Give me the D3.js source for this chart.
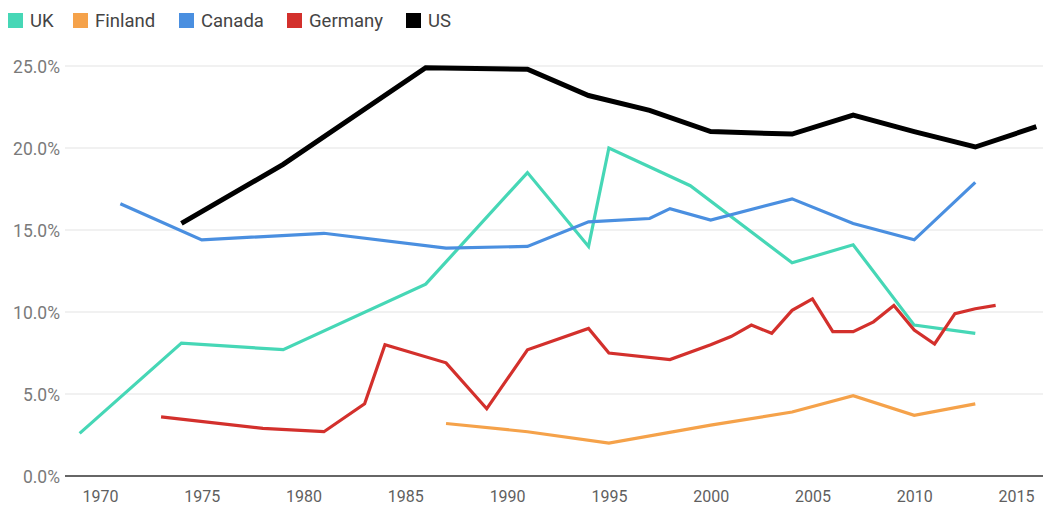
<!DOCTYPE html>
<html>
<head>
<meta charset="utf-8">
<script src="https://cdn.jsdelivr.net/npm/d3@7"></script>
<style>
  html, body { margin: 0; padding: 0; background: #fff; }
  svg { display: block; font-family: Roboto, "Noto Sans", sans-serif; }
</style>
</head>
<body>
<svg id="chart" width="1043" height="505"></svg>
<script>
// Share of population by country and year (percent)
const seriesNames = ["UK", "Finland", "Canada", "Germany", "US"];
const seriesColors = ["#46d7b6", "#f5a24a", "#4a8fe0", "#d3302c", "#000000"];

const ukYears = [1969, 1974, 1979, 1986, 1991, 1994, 1995, 1999, 2004, 2007, 2010, 2013];
const ukValues = [2.6, 8.1, 7.7, 11.7, 18.5, 14.0, 20.0, 17.7, 13.0, 14.1, 9.2, 8.7];

const finlandYears = [1987, 1991, 1995, 2000, 2004, 2007, 2010, 2013];
const finlandValues = [3.2, 2.7, 2.0, 3.1, 3.9, 4.9, 3.7, 4.4];

const canadaYears = [1971, 1975, 1981, 1987, 1991, 1994, 1997, 1998, 2000, 2004, 2007, 2010, 2013];
const canadaValues = [16.6, 14.4, 14.8, 13.9, 14.0, 15.5, 15.7, 16.3, 15.6, 16.9, 15.4, 14.4, 17.9];

const germanyYears = [1973, 1978, 1981, 1983, 1984, 1987, 1989, 1991, 1994, 1995, 1998, 2000, 2001, 2002, 2003, 2004, 2005, 2006, 2007, 2008, 2009, 2010, 2011, 2012, 2013, 2014];
const germanyValues = [3.6, 2.9, 2.7, 4.4, 8.0, 6.9, 4.1, 7.7, 9.0, 7.5, 7.1, 8.0, 8.5, 9.2, 8.7, 10.1, 10.8, 8.8, 8.8, 9.4, 10.4, 8.9, 8.05, 9.9, 10.2, 10.4];

const usYears = [1974, 1979, 1986, 1991, 1994, 1997, 2000, 2004, 2007, 2010, 2013, 2016];
const usValues = [15.4, 19.0, 24.9, 24.8, 23.2, 22.3, 21.0, 20.85, 22.0, 21.0, 20.06, 21.3];

const xTicks = [1970, 1975, 1980, 1985, 1990, 1995, 2000, 2005, 2010, 2015];
const yTicks = [0, 5, 10, 15, 20, 25];

const seriesData = [
  [ukYears, ukValues],
  [finlandYears, finlandValues],
  [canadaYears, canadaValues],
  [germanyYears, germanyValues],
  [usYears, usValues]
].map(([yrs, vals], i) => ({
  name: seriesNames[i],
  color: seriesColors[i],
  points: yrs.map((yr, j) => ({ year: yr, value: vals[j] }))
}));

const svg = d3.select("#chart");
const plotLeft = 65, plotRight = 1043;

const x = d3.scaleLinear().domain([1970, 2015]).range([100, 1016]);
const y = d3.scaleLinear().domain([0, 25]).range([476, 66]);

// horizontal gridlines
svg.append("g")
  .selectAll("line")
  .data(yTicks.filter(t => t !== 0))
  .join("line")
  .attr("x1", plotLeft).attr("x2", plotRight)
  .attr("y1", d => y(d)).attr("y2", d => y(d))
  .attr("stroke", "#e3e3e3").attr("stroke-width", 1);

// y axis labels
const yAxis = d3.axisLeft(y).tickValues(yTicks).tickSize(0).tickPadding(0)
  .tickFormat(d => d.toFixed(1) + "%");
const gy = svg.append("g").attr("transform", "translate(60,0)").call(yAxis);
gy.select(".domain").remove();
gy.selectAll("text")
  .attr("fill", "#7a7a7a").attr("font-size", 17.5)
  .attr("font-family", "Roboto, sans-serif")
  .attr("dy", "0.35em");

// x axis labels
const xAxis = d3.axisBottom(x).tickValues(xTicks).tickSize(0).tickPadding(0)
  .tickFormat(d3.format("d"));
const gx = svg.append("g").attr("transform", "translate(0,476)").call(xAxis);
gx.select(".domain").remove();
gx.selectAll("text")
  .attr("fill", "#5f5f5f").attr("font-size", 16)
  .attr("font-family", "Roboto, sans-serif")
  .attr("y", 26).attr("dy", 0);

// baseline
svg.append("line")
  .attr("x1", plotLeft).attr("x2", plotRight)
  .attr("y1", y(0)).attr("y2", y(0))
  .attr("stroke", "#333").attr("stroke-width", 1.5);

// series lines
const line = d3.line().x(d => x(d.year)).y(d => y(d.value));
svg.append("g")
  .selectAll("path")
  .data(seriesData)
  .join("path")
  .attr("d", d => line(d.points))
  .attr("fill", "none")
  .attr("stroke", d => d.color)
  .attr("stroke-width", d => d.name === "US" ? 5 : 3.2)
  .attr("stroke-linejoin", "miter")
  .attr("stroke-linecap", "butt");

// legend
const legendX = [8, 73, 179, 287, 406];
const legend = svg.append("g")
  .selectAll("g")
  .data(seriesData)
  .join("g")
  .attr("transform", (d, i) => `translate(${legendX[i]},13)`);
legend.append("rect")
  .attr("width", 15).attr("height", 15)
  .attr("fill", d => d.color);
legend.append("text")
  .attr("x", 22).attr("y", 14)
  .attr("font-size", 18.5)
  .attr("fill", "#444")
  .text(d => d.name);
</script>
</body>
</html>
